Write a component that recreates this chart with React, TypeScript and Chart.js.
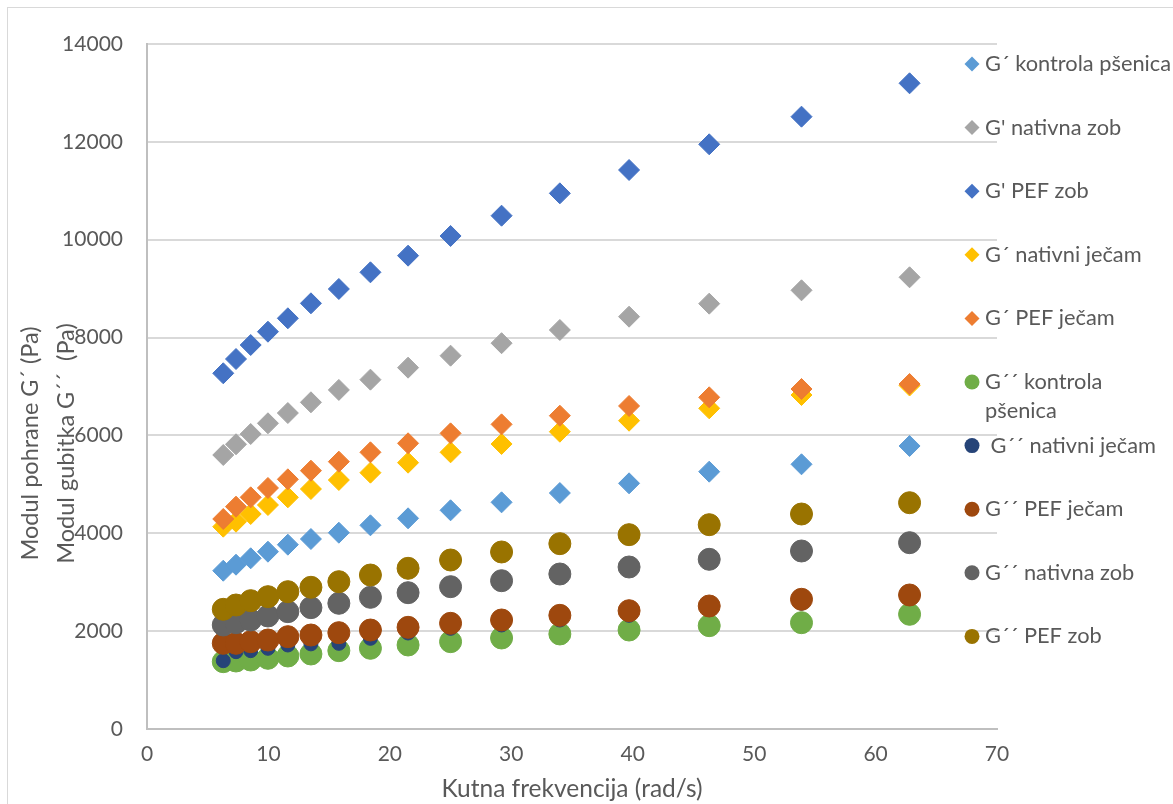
import React, { useEffect, useRef } from "react";
import { Chart, registerables } from "chart.js";

Chart.register(...registerables);

// Angular frequency (rad/s)
const frequencies = [6.28, 7.33, 8.54, 9.96, 11.6, 13.5, 15.8, 18.4, 21.5, 25.0, 29.2, 34.0, 39.7, 46.3, 53.9, 62.8];

// Storage modulus G´ (Pa)
const gPrimeKontrolaPsenica = [3235, 3358, 3489, 3624, 3767, 3883, 4012, 4163, 4306, 4470, 4633, 4823, 5021, 5259, 5410, 5784];
const gPrimeNativnaZob = [5600, 5819, 6029, 6248, 6458, 6677, 6930, 7140, 7385, 7630, 7885, 8155, 8427, 8693, 8966, 9232];
const gPrimePefZob = [7270, 7562, 7848, 8120, 8394, 8700, 8993, 9334, 9674, 10076, 10491, 10948, 11425, 11950, 12515, 13197];
const gPrimeNativniJecam = [4135, 4237, 4394, 4578, 4735, 4905, 5089, 5239, 5443, 5655, 5825, 6076, 6301, 6554, 6826, 7020];
const gPrimePefJecam = [4292, 4544, 4735, 4926, 5103, 5280, 5464, 5655, 5839, 6042, 6226, 6403, 6602, 6779, 6949, 7051];

// Loss modulus G´´ (Pa)
const gDoubleKontrolaPsenica = [1376, 1390, 1410, 1445, 1492, 1533, 1601, 1649, 1717, 1785, 1860, 1942, 2023, 2112, 2173, 2344];
const gDoubleNativniJecam = [1396, 1580, 1601, 1649, 1717, 1740, 1751, 1853, 1962, 2057, 2126, 2228, 2323, 2440, 2570, 2670];
const gDoublePefJecam = [1751, 1751, 1785, 1819, 1887, 1921, 1969, 2023, 2078, 2160, 2228, 2323, 2418, 2514, 2651, 2739];
const gDoubleNativnaZob = [2126, 2173, 2228, 2310, 2398, 2480, 2569, 2691, 2786, 2909, 3031, 3168, 3311, 3468, 3638, 3808];
const gDoublePefZob = [2446, 2534, 2623, 2705, 2807, 2896, 3011, 3147, 3284, 3454, 3618, 3788, 3972, 4176, 4394, 4625];

const seriesValues = [
  gPrimeKontrolaPsenica,
  gPrimeNativnaZob,
  gPrimePefZob,
  gPrimeNativniJecam,
  gPrimePefJecam,
  gDoubleKontrolaPsenica,
  gDoubleNativniJecam,
  gDoublePefJecam,
  gDoubleNativnaZob,
  gDoublePefZob,
];

const seriesLabels: string[][] = [
  ["G´ kontrola pšenica"],
  ["G' nativna zob"],
  ["G' PEF zob"],
  ["G´ nativni ječam"],
  ["G´ PEF ječam"],
  ["G´´ kontrola", "pšenica"],
  [" G´´ nativni ječam"],
  ["G´´ PEF ječam"],
  ["G´´ nativna zob"],
  ["G´´ PEF zob"],
];

const seriesColors = [
  "#5B9BD5",
  "#A5A5A5",
  "#4472C4",
  "#FFC000",
  "#ED7D31",
  "#70AD47",
  "#264478",
  "#9E480E",
  "#636363",
  "#997300",
];

const seriesShapes = ["rectRot", "rectRot", "rectRot", "rectRot", "rectRot", "circle", "circle", "circle", "circle", "circle"];
const seriesRadius = [10.5, 10.5, 10.5, 10.5, 10.5, 11, 7, 11, 11, 11];

const xTicks = [0, 10, 20, 30, 40, 50, 60, 70];
const yTicks = [0, 2000, 4000, 6000, 8000, 10000, 12000, 14000];

const xTitle = "Kutna frekvencija (rad/s)";
const yTitles = ["Modul pohrane G´ (Pa)", "Modul gubitka G´´  (Pa)"];

const FONT = "Lato";
const TEXT = "#595959";

export default function App() {
  const ref = useRef<HTMLCanvasElement | null>(null);

  useEffect(() => {
    if (!ref.current) return;

    const yTitlePlugin = {
      id: "yTitles",
      afterDraw(chart: any) {
        const ctx = chart.ctx;
        const cy = (chart.chartArea.top + chart.chartArea.bottom) / 2 + 57;
        const xs = [30, 66];
        ctx.save();
        ctx.fillStyle = TEXT;
        ctx.font = `23.5px ${FONT}`;
        ctx.textAlign = "center";
        ctx.textBaseline = "middle";
        yTitles.forEach((t, i) => {
          ctx.save();
          ctx.translate(xs[i], cy);
          ctx.rotate(-Math.PI / 2);
          ctx.fillText(t, 0, 0);
          ctx.restore();
        });
        ctx.restore();
      },
    };

    const legendPlugin = {
      id: "sideLegend",
      afterDraw(chart: any) {
        const ctx = chart.ctx;
        const markerX = chart.chartArea.right - 25;
        const textX = markerX + 13;
        const top = chart.chartArea.top + 20;
        const step = 63.6;
        ctx.save();
        ctx.font = `21.8px ${FONT}`;
        ctx.textAlign = "left";
        ctx.textBaseline = "middle";
        seriesLabels.forEach((lines, i) => {
          const y = top + i * step;
          ctx.fillStyle = seriesColors[i];
          ctx.beginPath();
          const r = 7.5;
          if (seriesShapes[i] === "circle") {
            ctx.arc(markerX, y, r, 0, Math.PI * 2);
          } else {
            ctx.moveTo(markerX - r, y);
            ctx.lineTo(markerX, y - r);
            ctx.lineTo(markerX + r, y);
            ctx.lineTo(markerX, y + r);
            ctx.closePath();
          }
          ctx.fill();
          ctx.fillStyle = TEXT;
          lines.forEach((ln, j) => {
            ctx.fillText(ln, textX, y + j * 29);
          });
        });
        ctx.restore();
      },
    };

    const datasets = seriesValues.map((vals, i) => ({
      label: seriesLabels[i].join(" "),
      data: vals.map((v, k) => ({ x: frequencies[k], y: v })),
      pointStyle: seriesShapes[i] as any,
      pointRadius: seriesRadius[i],
      pointBackgroundColor: seriesColors[i],
      pointBorderColor: seriesColors[i],
      pointBorderWidth: 1,
      backgroundColor: seriesColors[i],
      borderColor: seriesColors[i],
      showLine: false,
      order: -i,
    }));

    const chart = new Chart(ref.current, {
      type: "scatter",
      data: { datasets },
      options: {
        animation: false,
        responsive: false,
        events: [],
        layout: { padding: { left: 0, right: 176, top: 44, bottom: 0 } },
        plugins: {
          legend: { display: false },
          tooltip: { enabled: false },
        },
        scales: {
          x: {
            type: "linear",
            min: 0,
            max: 70,
            afterBuildTicks: (scale: any) => {
              scale.ticks = xTicks.map((v) => ({ value: v }));
            },
            afterFit: (scale: any) => {
              scale.height = 75;
            },
            ticks: {
              color: TEXT,
              font: { family: FONT, size: 21 },
              padding: 13,
              maxRotation: 0,
            },
            grid: { display: false, drawTicks: false },
            border: { display: true, color: "#BFBFBF", width: 2 },
            title: {
              display: true,
              text: xTitle,
              color: TEXT,
              font: { family: FONT, size: 24.5 },
              padding: { top: 0, bottom: 0 },
            },
          },
          y: {
            type: "linear",
            min: 0,
            max: 14000,
            afterBuildTicks: (scale: any) => {
              scale.ticks = yTicks.map((v) => ({ value: v }));
            },
            afterFit: (scale: any) => {
              scale.width = 147;
            },
            ticks: {
              color: TEXT,
              font: { family: FONT, size: 21 },
              padding: 24,
              callback: (v: any) => String(v),
            },
            grid: { color: "#D9D9D9", lineWidth: 2, drawTicks: false },
            border: { display: true, color: "#BFBFBF", width: 2 },
          },
        },
      },
      plugins: [yTitlePlugin, legendPlugin],
    });

    return () => chart.destroy();
  }, []);

  return (
    <div
      style={{
        position: "fixed",
        left: 0,
        top: 0,
        width: 1173,
        height: 804,
        overflow: "hidden",
        background: "#ffffff",
      }}
    >
      <div
        style={{
          position: "absolute",
          left: 7,
          top: 7,
          width: 2000,
          height: 2000,
          border: "1px solid #D9D9D9",
        }}
      />
      <canvas ref={ref} width={1173} height={804} style={{ position: "absolute", left: 0, top: 0 }} />
    </div>
  );
}
